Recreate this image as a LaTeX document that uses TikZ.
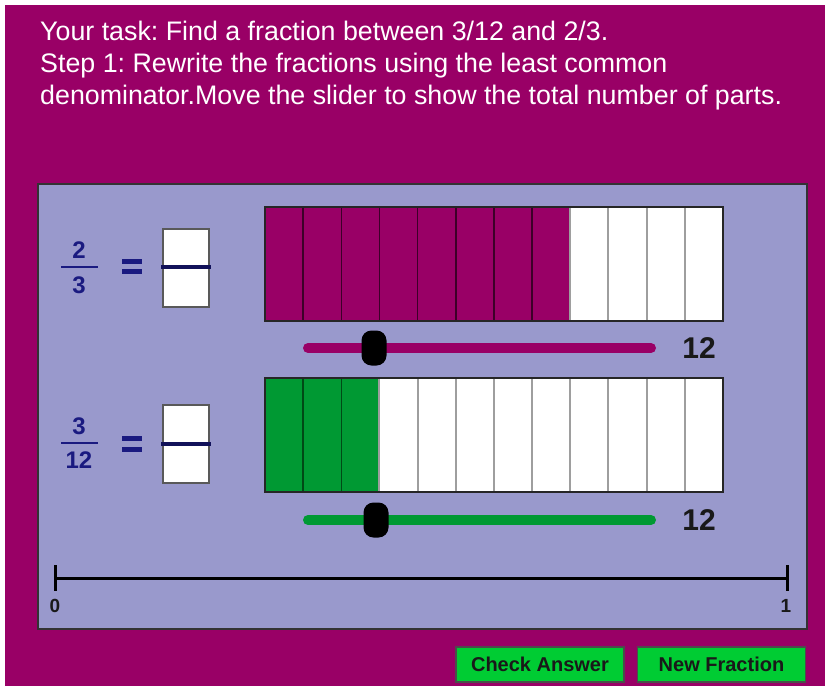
\documentclass[tikz,border=0pt]{standalone}
\usepackage{fontspec}
\setmainfont{Liberation Sans}
\definecolor{mag}{HTML}{990066}
\definecolor{magdark}{HTML}{3D0028}
\definecolor{lav}{HTML}{9999CC}
\definecolor{bargreen}{HTML}{009933}
\definecolor{greendark}{HTML}{004A16}
\definecolor{btngreen}{HTML}{00CC33}
\definecolor{navy}{HTML}{1A1A80}
\tikzset{
  cellfull/.style={line width=1.6},
  cellempty/.style={fill=white, draw=black!38, line width=2},
  barframe/.style={draw=black!85, line width=1.6},
  track/.style={line width=10, line cap=round},
  knob/.style={fill=black, minimum width=25, minimum height=35, rounded corners=10, inner sep=0},
  countlabel/.style={font=\bfseries\fontsize{30}{30}\selectfont, text=black!90, inner sep=0},
  fracdigit/.style={font=\bfseries\fontsize{24}{24}\selectfont, text=navy, inner sep=0},
  ansbox/.style={fill=white, draw=black!65, line width=1.6},
  ansline/.style={draw=navy!70!black, line width=3.5},
  eqbar/.style={draw=navy, line width=4.5},
  btn/.style={draw=black!70, line width=1.2, fill=btngreen, minimum width=168, minimum height=35, inner sep=0, font=\bfseries\fontsize{20}{20}\selectfont, text=black!90},
  ticklabel/.style={font=\bfseries\fontsize{19}{19}\selectfont, text=black!90, inner sep=0}
}
\begin{document}
\frenchspacing
\begin{tikzpicture}[x=1pt,y=-1pt]
\useasboundingbox (0,0) rectangle (825,686);
\fill[white] (0,0) rectangle (825,686);
\fill[mag] (5,5) rectangle (825,686);
% title
\node[anchor=north west, text=white, font=\fontsize{26.8}{32}\selectfont, align=left, inner sep=0] (title) at (40,21)
 {Your task: Find a fraction between 3/12 and 2/3.\\Step 1: Rewrite the fractions using the least common\\denominator.Move the slider to show the total number of parts.};
% panel
\draw[draw=black!80, fill=lav, line width=1.5] (38,184) rectangle (807,629);
% bar 1
\foreach \i in {0,...,11}{
  \pgfmathsetmacro\xa{265+\i*38.15}
  \pgfmathsetmacro\xb{265+(\i+1)*38.15}
  \ifnum\i<8
    \draw[cellfull, fill=mag, draw=magdark] (\xa,207) rectangle (\xb,321);
  \else
    \draw[cellempty] (\xa,207) rectangle (\xb,321);
  \fi
}
\draw[barframe] (265,207) rectangle (722.8,321);
% bar 2
\foreach \i in {0,...,11}{
  \pgfmathsetmacro\xa{265+\i*38.15}
  \pgfmathsetmacro\xb{265+(\i+1)*38.15}
  \ifnum\i<3
    \draw[cellfull, fill=bargreen, draw=greendark] (\xa,378) rectangle (\xb,492);
  \else
    \draw[cellempty] (\xa,378) rectangle (\xb,492);
  \fi
}
\draw[barframe] (265,378) rectangle (722.8,492);
% sliders
\coordinate (s1a) at (308,348);
\coordinate (s1b) at (651,348);
\draw[track, draw=mag] (s1a) -- (s1b);
\node[knob] (k1) at (374,348) {};
\node[countlabel] (n1) at (699,348) {12};
\coordinate (s2a) at (308,520);
\coordinate (s2b) at (651,520);
\draw[track, draw=bargreen] (s2a) -- (s2b);
\node[knob] (k2) at (376,520) {};
\node[countlabel] (n2) at (699,520) {12};
% fraction 2/3
\node[fracdigit] (f1n) at (79,250) {2};
\node[fracdigit] (f1d) at (79,285) {3};
\coordinate (f1a) at (61,267);
\coordinate (f1b) at (98,267);
\draw[draw=navy, line width=2.2] (f1a) -- (f1b);
\draw[eqbar] (122,261.5) -- (142,261.5) (122,271.5) -- (142,271.5);
\draw[ansbox] (163,229) rectangle (209,307);
\draw[ansline] (161,267) -- (211,267);
% fraction 3/12
\node[fracdigit] (f2n) at (79,426) {3};
\node[fracdigit] (f2d) at (79,460) {12};
\coordinate (f2a) at (61,443);
\coordinate (f2b) at (98,443);
\draw[draw=navy, line width=2.2] (f2a) -- (f2b);
\draw[eqbar] (122,438.5) -- (142,438.5) (122,449.5) -- (142,449.5);
\draw[ansbox] (163,405) rectangle (209,483);
\draw[ansline] (161,444) -- (211,444);
% number line
\coordinate (nl0) at (55,578);
\coordinate (nl1) at (787,578);
\draw[line width=3] (nl0) -- (nl1);
\draw[line width=3] (55,565) -- (55,591) (787,565) -- (787,591);
\node[ticklabel] (z0) at (55,606) {0};
\node[ticklabel] (z1) at (786,606) {1};
% buttons
\node[btn] (check) at (540,664.5) {Check Answer};
\node[btn] (newf) at (721.5,664.5) {New Fraction};
\end{tikzpicture}
\end{document}
